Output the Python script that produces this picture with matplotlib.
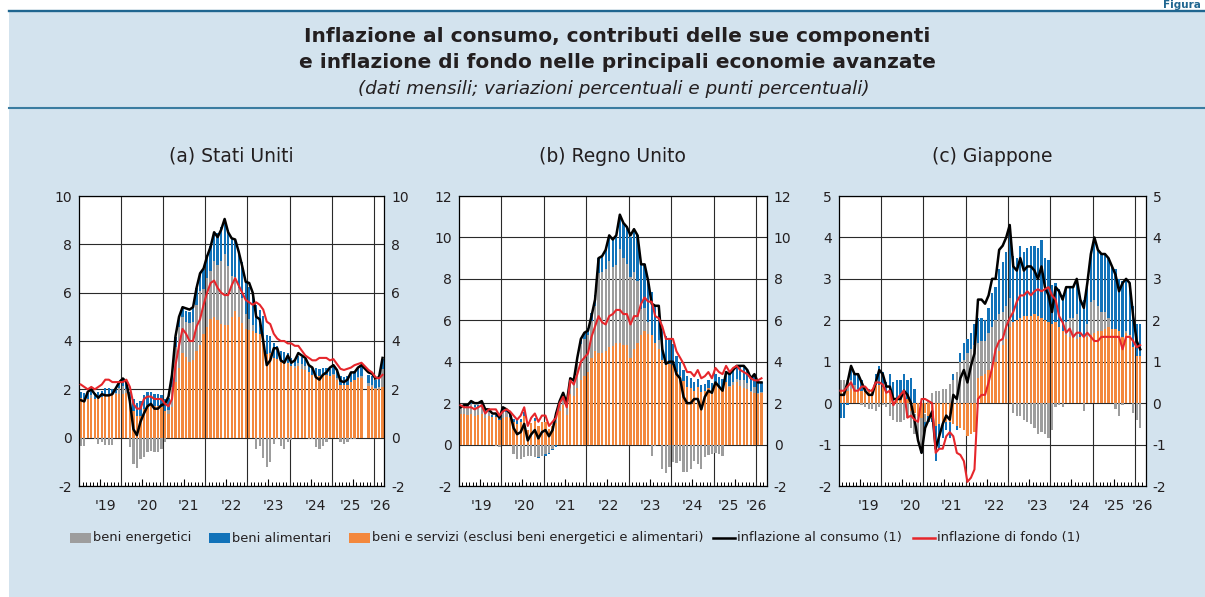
import numpy as np
import matplotlib
matplotlib.use("Agg")
import matplotlib.pyplot as plt
from matplotlib.patches import Rectangle
from matplotlib.lines import Line2D

plt.rcParams['font.family'] = ['DejaVu Sans']

# ---------------- DATA (monthly, Jan 2019 - Mar 2026) ----------------
nan = np.nan
year_labels = ["'19", "'20", "'21", "'22", "'23", "'24", "'25", "'26"]

# (a) Stati Uniti
us_core_contrib = [1.65, 1.6, 1.6, 1.65, 1.6, 1.65, 1.7, 1.8, 1.8, 1.75, 1.8, 1.8,
                   1.8, 1.85, 1.6, 1.1, 0.9, 0.9, 1.2, 1.35, 1.35, 1.3, 1.3, 1.25,
                   1.1, 1.0, 1.25, 2.3, 2.9, 3.5, 3.35, 3.15, 3.2, 3.6, 3.85, 4.3,
                   4.6, 4.9, 5.0, 4.85, 4.7, 4.65, 4.65, 5.0, 5.25, 5.0, 4.75, 4.5,
                   4.45, 4.4, 4.35, 4.3, 4.15, 3.45, 3.5, 3.3, 3.25, 3.15, 3.15, 3.1,
                   2.95, 2.9, 2.95, 2.85, 2.8, 2.7, 2.6, 2.6, 2.55, 2.6, 2.6, 2.55,
                   2.6, 2.4, 2.2, 2.2, 2.2, 2.3, 2.4, 2.45, 2.45, nan, 2.15, 2.1,
                   2.0, 2.0, 2.1]
us_energy = [-0.35, -0.35, 0.0, 0.1, -0.05, -0.25, -0.2, -0.3, -0.3, -0.3, 0.05, 0.25,
             0.35, 0.15, -0.4, -1.1, -1.25, -0.9, -0.8, -0.6, -0.55, -0.6, -0.6, -0.45,
             -0.2, 0.15, 0.85, 1.45, 1.7, 1.5, 1.45, 1.6, 1.6, 1.9, 2.2, 1.85,
             2.0, 2.0, 2.3, 2.3, 2.6, 2.95, 2.45, 1.7, 1.4, 1.2, 1.05, 0.6,
             0.45, 0.25, -0.45, -0.35, -0.85, -1.2, -1.0, -0.25, -0.05, -0.35, -0.45, -0.2,
             -0.1, 0.05, 0.15, 0.2, 0.15, -0.05, -0.05, -0.4, -0.45, -0.35, -0.2, 0.0,
             0.05, 0.05, -0.2, -0.25, -0.2, -0.05, -0.05, 0.05, 0.1, nan, 0.1, 0.1,
             0.05, 0.1, 0.75]
us_food = [0.25, 0.25, 0.25, 0.25, 0.25, 0.25, 0.25, 0.25, 0.25, 0.25, 0.25, 0.25,
           0.25, 0.25, 0.3, 0.5, 0.55, 0.6, 0.55, 0.55, 0.55, 0.5, 0.5, 0.5,
           0.5, 0.5, 0.45, 0.4, 0.35, 0.35, 0.45, 0.45, 0.55, 0.7, 0.75, 0.85,
           0.95, 1.05, 1.2, 1.3, 1.4, 1.45, 1.5, 1.55, 1.55, 1.5, 1.45, 1.4,
           1.35, 1.3, 1.15, 1.0, 0.9, 0.8, 0.7, 0.6, 0.55, 0.45, 0.4, 0.4,
           0.35, 0.3, 0.3, 0.3, 0.3, 0.3, 0.3, 0.3, 0.3, 0.3, 0.3, 0.3,
           0.3, 0.3, 0.35, 0.3, 0.35, 0.4, 0.35, 0.4, 0.4, nan, 0.35, 0.35,
           0.35, 0.35, 0.4]
us_headline = [1.55, 1.5, 1.9, 2.0, 1.8, 1.65, 1.8, 1.75, 1.75, 1.8, 2.05, 2.3,
               2.45, 2.3, 1.5, 0.35, 0.1, 0.65, 1.0, 1.3, 1.4, 1.2, 1.2, 1.35,
               1.4, 1.7, 2.6, 4.2, 5.0, 5.4, 5.35, 5.3, 5.4, 6.2, 6.8, 7.0,
               7.5, 7.9, 8.5, 8.3, 8.6, 9.05, 8.5, 8.25, 8.2, 7.7, 7.1, 6.45,
               6.4, 6.0, 5.0, 4.9, 4.0, 3.0, 3.2, 3.7, 3.7, 3.2, 3.1, 3.4,
               3.1, 3.2, 3.5, 3.4, 3.3, 3.0, 2.9, 2.5, 2.4, 2.6, 2.7, 2.9,
               3.0, 2.8, 2.35, 2.3, 2.4, 2.7, 2.7, 2.9, 3.0, 2.85, 2.7, 2.65,
               2.45, 2.5, 3.3]
us_core = [2.2, 2.1, 2.0, 2.1, 2.0, 2.1, 2.2, 2.4, 2.4, 2.3, 2.3, 2.3,
           2.3, 2.4, 2.1, 1.4, 1.2, 1.2, 1.6, 1.7, 1.7, 1.6, 1.6, 1.6,
           1.4, 1.3, 1.6, 3.0, 3.8, 4.5, 4.3, 4.0, 4.0, 4.6, 4.9, 5.5,
           6.0, 6.4, 6.5, 6.2, 6.0, 5.9, 5.9, 6.3, 6.6, 6.3, 6.0, 5.7,
           5.6, 5.5, 5.6, 5.5, 5.3, 4.8, 4.7, 4.3, 4.1, 4.0, 4.0, 3.9,
           3.9, 3.8, 3.8, 3.6, 3.4, 3.3, 3.2, 3.2, 3.3, 3.3, 3.3, 3.2,
           3.25, 3.05, 2.85, 2.8, 2.85, 2.9, 3.0, 3.05, 3.1, 2.95, 2.8, 2.7,
           2.5, 2.45, 2.6]

# (b) Regno Unito
uk_core_contrib = [1.5, 1.5, 1.45, 1.5, 1.4, 1.45, 1.5, 1.3, 1.4, 1.35, 1.35, 1.2,
                   1.3, 1.35, 1.3, 1.1, 1.0, 1.1, 1.4, 0.7, 1.05, 1.15, 0.9, 1.1,
                   1.1, 0.75, 0.9, 1.05, 1.6, 1.9, 1.45, 2.45, 2.35, 2.75, 3.1, 3.3,
                   3.5, 4.2, 4.5, 4.4, 4.4, 4.5, 4.7, 4.75, 4.9, 4.9, 4.8, 4.8,
                   4.2, 4.6, 4.9, 5.3, 5.5, 5.35, 5.3, 4.9, 4.6, 4.1, 3.95, 3.9,
                   3.85, 3.5, 3.3, 3.05, 2.8, 2.75, 2.6, 2.8, 2.55, 2.6, 2.75, 2.55,
                   2.9, 2.75, 2.7, 3.0, 2.8, 2.9, 3.0, 2.85, 2.75, 2.7, 2.55, 2.5,
                   2.45, 2.5, nan]
uk_energy = [0.25, 0.3, 0.3, 0.45, 0.4, 0.35, 0.3, 0.25, 0.15, 0.0, -0.05, -0.1,
             0.25, 0.2, 0.05, -0.45, -0.7, -0.7, -0.6, -0.55, -0.55, -0.6, -0.6, -0.55,
             -0.45, -0.4, -0.2, 0.5, 0.45, 0.5, 0.55, 0.6, 0.65, 1.35, 1.75, 1.8,
             1.8, 1.75, 2.2, 3.9, 3.95, 4.0, 4.15, 3.8, 3.75, 4.55, 4.2, 3.9,
             3.9, 3.75, 3.0, 1.25, 1.1, 0.55, -0.55, -0.05, 0.45, -1.2, -1.35, -1.1,
             -0.85, -0.9, -0.8, -1.3, -1.3, -1.2, -0.8, -0.95, -1.2, -0.6, -0.5, -0.45,
             -0.4, -0.45, -0.55, 0.0, 0.05, 0.1, 0.15, 0.25, 0.35, 0.25, 0.05, 0.3,
             0.05, 0.05, nan]
uk_food = [0.15, 0.15, 0.1, 0.1, 0.1, 0.1, 0.15, 0.15, 0.1, 0.1, 0.1, 0.15,
           0.2, 0.15, 0.15, 0.15, 0.2, 0.15, 0.15, 0.0, 0.0, 0.15, -0.05, 0.0,
           -0.1, -0.05, -0.05, -0.1, 0.0, 0.05, 0.0, 0.1, 0.1, 0.1, 0.2, 0.3,
           0.35, 0.4, 0.5, 0.7, 0.8, 0.95, 1.2, 1.35, 1.45, 1.65, 1.7, 1.8,
           1.9, 2.05, 2.2, 2.15, 2.1, 2.0, 2.05, 1.85, 1.65, 1.5, 1.3, 1.2,
           1.0, 0.8, 0.7, 0.55, 0.5, 0.45, 0.4, 0.35, 0.35, 0.3, 0.35, 0.4,
           0.5, 0.5, 0.45, 0.5, 0.55, 0.6, 0.65, 0.7, 0.7, 0.65, 0.6, 0.6,
           0.5, 0.45, nan]
uk_headline = [1.8, 1.9, 1.9, 2.1, 2.0, 2.0, 2.1, 1.7, 1.7, 1.5, 1.5, 1.3,
               1.8, 1.7, 1.5, 0.8, 0.5, 0.6, 1.0, 0.2, 0.5, 0.7, 0.3, 0.6,
               0.7, 0.4, 0.7, 1.5, 2.1, 2.5, 2.0, 3.2, 3.1, 4.2, 5.1, 5.4,
               5.5, 6.2, 7.0, 9.0, 9.1, 9.4, 10.1, 9.9, 10.1, 11.1, 10.7, 10.5,
               10.1, 10.4, 10.1, 8.7, 8.7, 7.9, 6.8, 6.7, 6.7, 4.6, 3.9, 4.0,
               4.0, 3.4, 3.2, 2.3, 2.0, 2.0, 2.2, 2.2, 1.7, 2.3, 2.6, 2.5,
               3.0, 2.8, 2.6, 3.5, 3.4, 3.6, 3.8, 3.8, 3.8, 3.6, 3.2, 3.4,
               3.0, 3.0, nan]
uk_core = [1.9, 1.8, 1.8, 1.8, 1.7, 1.8, 1.9, 1.5, 1.7, 1.7, 1.7, 1.4,
           1.6, 1.7, 1.6, 1.4, 1.2, 1.4, 1.8, 0.9, 1.3, 1.5, 1.1, 1.4,
           1.4, 0.9, 1.1, 1.3, 2.0, 2.3, 1.8, 3.1, 2.9, 3.4, 4.0, 4.2,
           4.4, 5.2, 5.7, 6.2, 5.9, 5.8, 6.2, 6.3, 6.5, 6.5, 6.3, 6.3,
           5.8, 6.2, 6.2, 6.8, 7.1, 6.9, 6.9, 6.2, 6.1, 5.7, 5.1, 5.1,
           5.1, 4.5, 4.2, 3.9, 3.5, 3.5, 3.3, 3.6, 3.2, 3.3, 3.5, 3.2,
           3.7, 3.5, 3.4, 3.8, 3.5, 3.7, 3.8, 3.6, 3.5, 3.4, 3.2, 3.1,
           3.1, 3.2, nan]

# (c) Giappone
jp_core_contrib = [0.3, 0.3, 0.3, 0.35, 0.3, 0.3, 0.3, 0.3, 0.3, 0.35, 0.45, 0.45,
                   0.4, 0.25, 0.25, 0.05, 0.1, 0.15, 0.2, 0.1, -0.2, -0.25, -0.3, -0.35,
                   -0.25, -0.3, -0.35, -0.55, -0.5, -0.5, -0.45, -0.45, -0.5, -0.55, -0.6, -0.65,
                   -0.8, -0.75, -0.7, 0.6, 0.65, 0.7, 0.8, 0.85, 1.0, 1.25, 1.4, 1.55,
                   1.85, 1.95, 2.0, 2.05, 2.1, 2.1, 2.1, 2.15, 2.1, 2.05, 2.0, 1.95,
                   1.9, 1.95, 1.85, 1.75, 1.65, 1.6, 1.6, 1.55, 1.6, 1.6, 1.6, 1.65,
                   1.7, 1.75, 1.75, 1.8, 1.85, 1.8, 1.8, 1.75, 1.6, 1.7, 1.65, 1.35,
                   1.15, 1.15, nan]
jp_energy = [0.25, 0.25, 0.25, 0.2, 0.15, 0.05, -0.05, -0.1, -0.15, -0.15, -0.2, -0.1,
             -0.05, -0.1, -0.3, -0.4, -0.45, -0.45, -0.4, -0.35, -0.4, -0.5, -0.6, -0.7,
             -0.2, 0.05, 0.25, 0.3, 0.3, 0.35, 0.35, 0.45, 0.55, 0.75, 1.0, 1.05,
             1.2, 1.3, 1.4, 0.85, 0.85, 0.8, 0.9, 1.0, 1.0, 0.9, 0.8, 0.8,
             0.7, -0.25, -0.3, -0.3, -0.4, -0.45, -0.5, -0.6, -0.75, -0.7, -0.75, -0.85,
             -0.65, -0.1, -0.05, -0.1, 0.3, 0.45, 0.45, 0.6, 0.0, -0.2, 0.3, 0.8,
             0.8, 0.6, 0.45, 0.4, 0.2, 0.0, -0.15, -0.3, -0.05, 0.05, 0.0, -0.25,
             -0.4, -0.6, nan]
jp_food = [-0.35, -0.35, -0.05, 0.35, 0.25, 0.35, 0.25, 0.1, 0.05, 0.0, 0.25, 0.45,
           0.35, 0.25, 0.45, 0.45, 0.45, 0.4, 0.5, 0.45, 0.6, 0.35, 0.0, -0.15,
           -0.15, -0.15, -0.1, -0.85, -0.6, -0.35, -0.2, -0.4, 0.15, -0.1, 0.2, 0.4,
           0.35, 0.4, 0.5, 0.6, 0.55, 0.5, 0.6, 0.8, 0.8, 1.1, 1.2, 1.3,
           1.6, 1.6, 1.5, 1.75, 1.55, 1.65, 1.7, 1.65, 1.65, 1.9, 1.5, 1.5,
           0.95, 0.95, 0.9, 0.85, 0.85, 0.75, 0.75, 0.85, 0.9, 0.9, 1.0, 1.15,
           1.5, 1.35, 1.4, 1.4, 1.45, 1.5, 1.45, 1.25, 1.35, 1.25, 1.25, 1.0,
           0.75, 0.75, nan]
jp_headline = [0.2, 0.2, 0.5, 0.9, 0.7, 0.7, 0.5, 0.3, 0.2, 0.2, 0.5, 0.8,
               0.7, 0.4, 0.4, 0.1, 0.1, 0.1, 0.3, 0.2, 0.0, -0.4, -0.9, -1.2,
               -0.6, -0.4, -0.2, -1.1, -0.8, -0.5, -0.3, -0.4, 0.2, 0.1, 0.6, 0.8,
               0.5, 0.9, 1.2, 2.5, 2.5, 2.4, 2.6, 3.0, 3.0, 3.7, 3.8, 4.0,
               4.3, 3.3, 3.2, 3.5, 3.2, 3.3, 3.3, 3.2, 3.0, 3.3, 2.8, 2.6,
               2.2, 2.8, 2.7, 2.5, 2.8, 2.8, 2.8, 3.0, 2.5, 2.3, 2.9, 3.6,
               4.0, 3.7, 3.6, 3.6, 3.5, 3.3, 3.1, 2.7, 2.9, 3.0, 2.9, 2.1,
               1.5, 1.3, nan]
jp_core = [0.3, 0.3, 0.4, 0.5, 0.3, 0.3, 0.4, 0.4, 0.3, 0.3, 0.5, 0.5,
           0.45, 0.25, 0.3, -0.05, 0.1, 0.2, 0.3, -0.35, -0.3, -0.4, -0.45, 0.1,
           0.1, 0.05, 0.0, -1.2, -1.1, -1.1, -0.8, -0.7, -0.8, -1.2, -1.25, -1.4,
           -1.9, -1.8, -1.6, 0.1, 0.2, 0.2, 0.5, 0.85, 1.3, 1.5, 1.55, 1.85,
           2.05, 2.2, 2.45, 2.6, 2.6, 2.7, 2.6, 2.7, 2.75, 2.7, 2.75, 2.8,
           2.6, 2.5, 2.1, 1.95, 1.7, 1.8, 1.6, 1.7, 1.7, 1.6, 1.7, 1.6,
           1.5, 1.5, 1.6, 1.6, 1.6, 1.6, 1.6, 1.6, 1.3, 1.6, 1.6, 1.5,
           1.35, 1.4, nan]

# ---------------- STYLE ----------------
W, H = 1205, 597
BG = '#d3e3ee'
HEAD = '#1f6690'
GRAY = '#9d9d9d'
BLUE = '#1172b9'
ORANGE = '#f3883d'
RED = '#e6262b'
TXT = '#231f20'
GRID = '#2a2a2a'

fig = plt.figure(figsize=(W / 100, H / 100), dpi=100, facecolor='white')


def fx(px):
    return px / W


def fy(py):
    return 1 - py / H


fig.patches.append(Rectangle((fx(9), 0), 1 - fx(9), fy(10), transform=fig.transFigure,
                             facecolor=BG, edgecolor='none', zorder=-10))
fig.add_artist(Line2D([fx(9), 1], [fy(11.2), fy(11.2)], color=HEAD, lw=1.7, zorder=-5))
fig.add_artist(Line2D([fx(9), 1], [fy(107.8), fy(107.8)], color='#3a7ca0', lw=1.5,
                      zorder=-5))
fig.text(fx(1201), fy(8.3), 'Figura', ha='right', va='baseline', fontsize=7.5,
         fontweight='bold', color=HEAD)

fig.text(fx(617), fy(41.5), 'Inflazione al consumo, contributi delle sue componenti',
         ha='center', va='baseline', fontsize=14.5, fontweight='bold', color=TXT)
fig.text(fx(617), fy(68), 'e inflazione di fondo nelle principali economie avanzate',
         ha='center', va='baseline', fontsize=14.5, fontweight='bold', color=TXT)
fig.text(fx(614), fy(94), '(dati mensili; variazioni percentuali e punti percentuali)',
         ha='center', va='baseline', fontsize=13.2, fontstyle='italic', color=TXT)

panels = [
    dict(box=(79.0, 384.3), title='(a) Stati Uniti', ylim=(-2, 10), step=2,
         data=(us_core_contrib, us_energy, us_food, us_headline, us_core),
         lab=[105, 147, 188, 231, 273, 315, 350.6, 380]),
    dict(box=(458.7, 766.8), title='(b) Regno Unito', ylim=(-2, 12), step=2,
         data=(uk_core_contrib, uk_energy, uk_food, uk_headline, uk_core),
         lab=[481.6, 524.5, 565, 608, 650, 692, 728, 756]),
    dict(box=(838.7, 1145.5), title='(c) Giappone', ylim=(-2, 5), step=1,
         data=(jp_core_contrib, jp_energy, jp_food, jp_headline, jp_core),
         lab=[868, 910.6, 951, 994, 1037, 1079, 1114.7, 1142]),
]

TOP, BOT = 196.0, 486.0
for p in panels:
    l, r = p['box']
    ax = fig.add_axes([fx(l), fy(BOT), fx(r - l), (BOT - TOP) / H], zorder=2)
    ax.set_facecolor('white')
    core_c, en, fo, hl, co = [np.asarray(a, float) for a in p['data']]
    n = len(hl)
    x = np.arange(n)
    pos = np.zeros(n)
    neg = np.zeros(n)
    for v, col in [(core_c, ORANGE), (en, GRAY), (fo, BLUE)]:
        ok = ~np.isnan(v)
        vv = np.nan_to_num(v)
        base = np.where(vv >= 0, pos, neg)
        ax.bar(x[ok], vv[ok], bottom=base[ok], width=0.64, color=col,
               linewidth=0, zorder=2)
        pos = pos + np.where(vv > 0, vv, 0)
        neg = neg + np.where(vv < 0, vv, 0)
    ax.plot(x, hl, color='black', lw=1.8, zorder=4, solid_joinstyle='round')
    ax.plot(x, co, color=RED, lw=1.5, zorder=5, solid_joinstyle='round')

    ax.set_xlim(-0.5, n - 0.5)
    lo, hi = p['ylim']
    ax.set_ylim(lo, hi)
    yt = np.arange(lo, hi + 0.01, p['step'])
    ax.set_yticks(yt)
    ax.set_yticklabels([f'{int(t)}' for t in yt])
    ax.yaxis.grid(True, color=GRID, lw=0.8)
    ax.set_axisbelow(True)
    for b in np.arange(11.5, n - 1, 12):
        ax.axvline(b, color=GRID, lw=0.8, zorder=1)
    ax.tick_params(axis='y', length=0, labelsize=10, pad=5, colors=TXT,
                   labelleft=True, labelright=True)
    ax.set_xticks(np.arange(5.5, n, 12))
    ax.set_xticks(np.arange(-0.5, n, 1), minor=True)
    ax.tick_params(axis='x', which='major', direction='in', length=5, width=0.8,
                   labelbottom=False, color='black')
    ax.tick_params(axis='x', which='minor', direction='in', length=2.6, width=0.7,
                   labelbottom=False, color='black')
    for s in ax.spines.values():
        s.set_color('black')
        s.set_linewidth(0.9)
    for px, lab in zip(p['lab'], year_labels):
        fig.text(fx(px), fy(506.5), lab, ha='center', va='center', fontsize=10,
                 color=TXT)
    fig.text(fx((l + r) / 2), fy(156), p['title'], ha='center', va='center',
             fontsize=13.5, color=TXT)

# ---------------- LEGEND ----------------
LY = 538
for x0, col, lab in [(70, GRAY, 'beni energetici'), (209, BLUE, 'beni alimentari'),
                     (349, ORANGE, 'beni e servizi (esclusi beni energetici e alimentari)')]:
    fig.patches.append(Rectangle((fx(x0), fy(LY + 5)), fx(21), 10 / H,
                                 transform=fig.transFigure, facecolor=col,
                                 edgecolor='none'))
    fig.text(fx(x0 + 23), fy(LY), lab, ha='left', va='center', fontsize=9.35, color=TXT)
for x0, col, lab in [(713, 'black', 'inflazione al consumo (1)'),
                     (913, RED, 'inflazione di fondo (1)')]:
    fig.add_artist(Line2D([fx(x0), fx(x0 + 22)], [fy(LY), fy(LY)], color=col, lw=1.8))
    fig.text(fx(x0 + 24), fy(LY), lab, ha='left', va='center', fontsize=9.35, color=TXT)

fig.savefig('out.png', dpi=100, facecolor=fig.get_facecolor())
